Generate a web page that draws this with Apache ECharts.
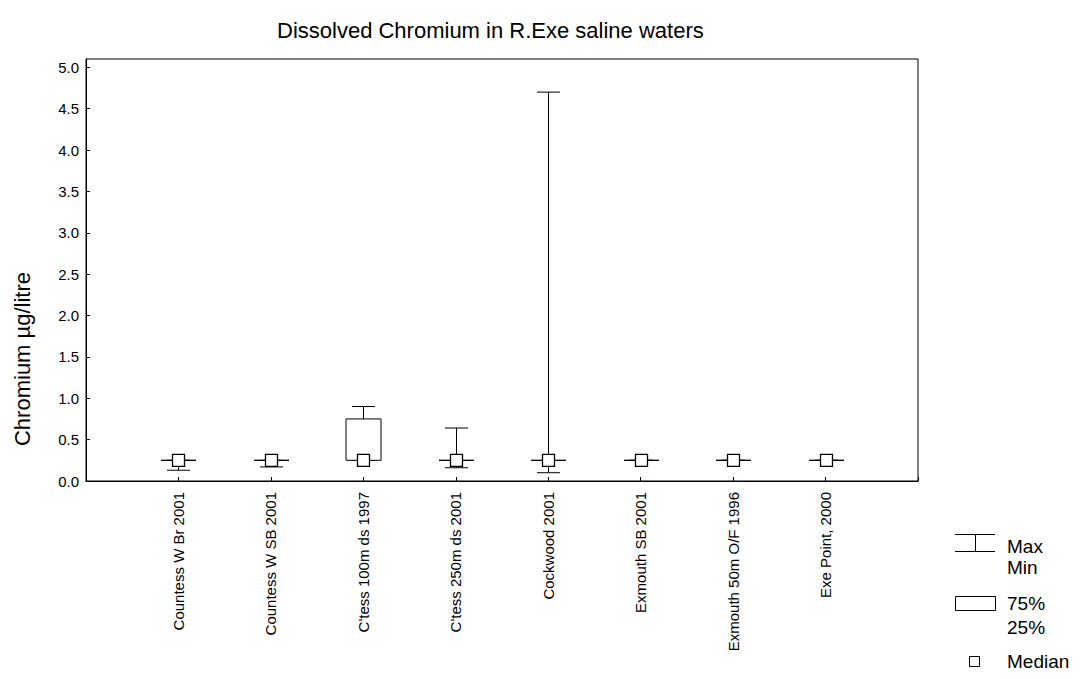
<!DOCTYPE html>
<html>
<head>
<meta charset="utf-8">
<title>Dissolved Chromium in R.Exe saline waters</title>
<script src="https://cdn.jsdelivr.net/npm/echarts@6/dist/echarts.min.js"></script>
<style>
  html, body { margin: 0; padding: 0; background: #fff; }
  #chart { width: 1085px; height: 679px; }
</style>
</head>
<body>
<div id="chart"></div>
<script>
// Sampling sites along the Exe estuary
const categories = [
  'Countess W Br 2001',
  'Countess W SB 2001',
  "C'tess 100m ds 1997",
  "C'tess 250m ds 2001",
  'Cockwood 2001',
  'Exmouth SB 2001',
  'Exmouth 50m O/F 1996',
  'Exe Point, 2000'
];

// Dissolved chromium, µg/litre
const minVals    = [0.13, 0.17, 0.25, 0.16, 0.10, 0.25, 0.25, 0.25];
const q1Vals     = [0.25, 0.25, 0.25, 0.25, 0.25, 0.25, 0.25, 0.25];
const medianVals = [0.25, 0.25, 0.25, 0.25, 0.25, 0.25, 0.25, 0.25];
const q3Vals     = [0.25, 0.25, 0.75, 0.25, 0.25, 0.25, 0.25, 0.25];
const maxVals    = [0.25, 0.25, 0.90, 0.64, 4.70, 0.25, 0.25, 0.25];

// Value axis tick labels
const yTicks = ['0.0', '0.5', '1.0', '1.5', '2.0', '2.5', '3.0', '3.5', '4.0', '4.5', '5.0'];

const FONT = '"Liberation Sans", Arial, sans-serif';
const INK = '#000';

const boxData = categories.map((c, i) => [i + 1, minVals[i], q1Vals[i], medianVals[i], q3Vals[i], maxVals[i]]);

function renderBox(params, api) {
  const x = api.value(0);
  const pMin = api.coord([x, api.value(1)]);
  const pQ1 = api.coord([x, api.value(2)]);
  const pMed = api.coord([x, api.value(3)]);
  const pQ3 = api.coord([x, api.value(4)]);
  const pMax = api.coord([x, api.value(5)]);
  const cx = Math.round(pMed[0]) + 0.5;
  const boxHalf = 17.5, capHalf = 11.5, sq = 6;
  const lineStyle = { stroke: INK, lineWidth: 1, fill: null };
  const kids = [];
  // whiskers and caps
  kids.push({ type: 'line', shape: { x1: cx, y1: pQ3[1], x2: cx, y2: pMax[1] }, style: lineStyle });
  kids.push({ type: 'line', shape: { x1: cx - capHalf, y1: pMax[1], x2: cx + capHalf, y2: pMax[1] }, style: lineStyle });
  kids.push({ type: 'line', shape: { x1: cx, y1: pQ1[1], x2: cx, y2: pMin[1] }, style: lineStyle });
  kids.push({ type: 'line', shape: { x1: cx - capHalf, y1: pMin[1], x2: cx + capHalf, y2: pMin[1] }, style: lineStyle });
  // 25%-75% box
  kids.push({ type: 'rect', shape: { x: cx - boxHalf, y: pQ3[1], width: boxHalf * 2, height: pQ1[1] - pQ3[1] },
              style: { stroke: INK, lineWidth: 1, fill: '#fff' } });
  // median square
  kids.push({ type: 'rect', shape: { x: cx - sq, y: pMed[1] - sq, width: sq * 2, height: sq * 2 },
              style: { stroke: INK, lineWidth: 1.3, fill: '#fff' } });
  return { type: 'group', children: kids };
}

const chart = echarts.init(document.getElementById('chart'), null, { renderer: 'svg' });

const legendX = 955, legendTextX = 1007;
const legendFont = '19px ' + FONT;
chart.setOption({
  backgroundColor: '#fff',
  animation: false,
  title: {
    text: 'Dissolved Chromium in R.Exe saline waters',
    left: 272, top: 14,
    textStyle: { fontFamily: FONT, fontSize: 22, fontWeight: 'normal', color: INK }
  },
  grid: {
    left: 86, right: 167, top: 59, bottom: 198,
    show: true, borderColor: INK, borderWidth: 1, backgroundColor: '#fff'
  },
  xAxis: {
    type: 'value', min: 0, max: 9, interval: 1,
    axisLine: { show: true, lineStyle: { color: INK } },
    axisTick: { show: true, inside: true, length: 4, lineStyle: { color: INK } },
    splitLine: { show: false },
    axisLabel: {
      rotate: 90, margin: 11,
      fontFamily: FONT, fontSize: 15, color: INK,
      formatter: v => categories[v - 1] || ''
    }
  },
  yAxis: {
    type: 'value', min: 0, max: 5.1, interval: 0.5,
    axisLine: { show: true, lineStyle: { color: INK } },
    axisTick: { show: true, inside: true, length: 4, lineStyle: { color: INK } },
    splitLine: { show: false },
    axisLabel: {
      margin: 7, showMaxLabel: false,
      fontFamily: FONT, fontSize: 15, color: INK,
      formatter: v => yTicks[Math.round(v / 0.5)] || ''
    }
  },
  series: [{
    type: 'custom',
    renderItem: renderBox,
    data: boxData,
    encode: { x: 0, y: [1, 2, 3, 4, 5] },
    z: 5
  }],
  graphic: [
    { type: 'text', x: 22, y: 359, rotation: Math.PI / 2,
      style: { text: 'Chromium µg/litre', font: '22px ' + FONT, fill: INK, align: 'center', verticalAlign: 'middle' } },
    // legend: whisker symbol
    { type: 'line', shape: { x1: legendX, y1: 534.5, x2: legendX + 40, y2: 534.5 }, style: { stroke: INK, lineWidth: 1 } },
    { type: 'line', shape: { x1: legendX, y1: 551.5, x2: legendX + 40, y2: 551.5 }, style: { stroke: INK, lineWidth: 1 } },
    { type: 'line', shape: { x1: legendX + 20.5, y1: 534.5, x2: legendX + 20.5, y2: 551.5 }, style: { stroke: INK, lineWidth: 1 } },
    { type: 'text', x: legendTextX, y: 546, style: { text: 'Max', font: legendFont, fill: INK, verticalAlign: 'middle' } },
    { type: 'text', x: legendTextX, y: 567, style: { text: 'Min', font: legendFont, fill: INK, verticalAlign: 'middle' } },
    // legend: box symbol
    { type: 'rect', shape: { x: legendX + 0.5, y: 596.5, width: 40, height: 14 }, style: { stroke: INK, lineWidth: 1, fill: '#fff' } },
    { type: 'text', x: legendTextX, y: 603, style: { text: '75%', font: legendFont, fill: INK, verticalAlign: 'middle' } },
    { type: 'text', x: legendTextX, y: 627, style: { text: '25%', font: legendFont, fill: INK, verticalAlign: 'middle' } },
    // legend: median symbol
    { type: 'rect', shape: { x: 969.5, y: 656.5, width: 10, height: 10 }, style: { stroke: INK, lineWidth: 1, fill: '#fff' } },
    { type: 'text', x: legendTextX, y: 661, style: { text: 'Median', font: legendFont, fill: INK, verticalAlign: 'middle' } }
  ]
});
</script>
</body>
</html>
